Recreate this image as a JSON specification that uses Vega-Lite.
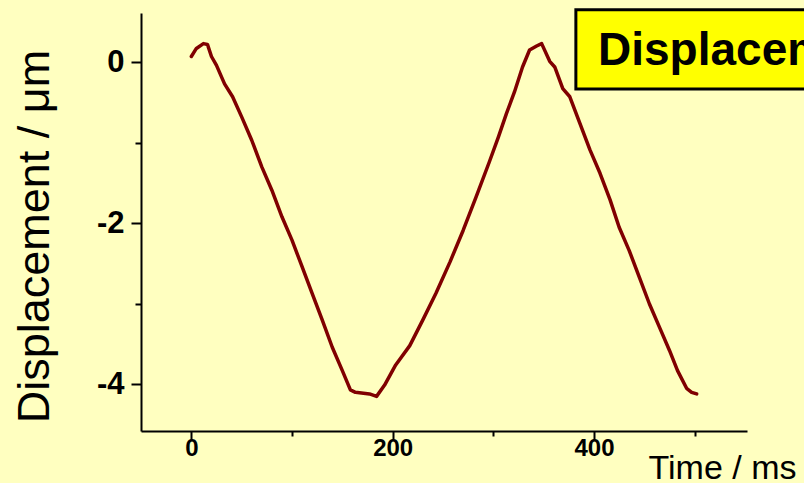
{
  "$schema": "https://vega.github.io/schema/vega-lite/v6.json",
  "width": 606,
  "height": 418,
  "autosize": "none",
  "padding": {"left": 141, "top": 13, "right": 57, "bottom": 52},
  "background": "#FFFFC0",
  "config": {
    "view": {"stroke": null, "fill": "#FFFFC0"},
    "font": "Liberation Sans",
    "axis": {
      "tickWidth": 2, "tickColor": "black", "domainWidth": 2, "domainColor": "black", "grid": false,
      "labelFont": "Liberation Sans", "labelFontWeight": "bold", "labelColor": "black",
      "labelFlush": false, "labelOverlap": false,
      "titleFont": "Liberation Sans", "titleFontWeight": "normal", "titleColor": "black"
    }
  },
  "layer": [
    {
      "data": {"values": [
        {"t": 0, "v": 0.07}, {"t": 5, "v": 0.17}, {"t": 12, "v": 0.23}, {"t": 16, "v": 0.22},
        {"t": 20, "v": 0.07}, {"t": 25, "v": -0.04}, {"t": 33, "v": -0.27}, {"t": 41, "v": -0.43},
        {"t": 50, "v": -0.68}, {"t": 60, "v": -0.97}, {"t": 70, "v": -1.30}, {"t": 80, "v": -1.59},
        {"t": 90, "v": -1.92}, {"t": 100, "v": -2.21}, {"t": 110, "v": -2.54}, {"t": 120, "v": -2.87},
        {"t": 130, "v": -3.20}, {"t": 140, "v": -3.54}, {"t": 150, "v": -3.83}, {"t": 158, "v": -4.07},
        {"t": 163, "v": -4.10}, {"t": 177, "v": -4.12}, {"t": 184, "v": -4.15}, {"t": 192, "v": -4.01},
        {"t": 203, "v": -3.76}, {"t": 217, "v": -3.52}, {"t": 230, "v": -3.20}, {"t": 243, "v": -2.87},
        {"t": 257, "v": -2.48}, {"t": 270, "v": -2.09}, {"t": 283, "v": -1.67}, {"t": 296, "v": -1.24},
        {"t": 305, "v": -0.93}, {"t": 313, "v": -0.64}, {"t": 321, "v": -0.37}, {"t": 329, "v": -0.06},
        {"t": 336, "v": 0.15}, {"t": 343, "v": 0.20}, {"t": 348, "v": 0.23}, {"t": 356, "v": 0.01},
        {"t": 361, "v": -0.06}, {"t": 369, "v": -0.33}, {"t": 376, "v": -0.43}, {"t": 386, "v": -0.76},
        {"t": 396, "v": -1.09}, {"t": 406, "v": -1.38}, {"t": 416, "v": -1.71}, {"t": 425, "v": -2.05},
        {"t": 435, "v": -2.34}, {"t": 445, "v": -2.67}, {"t": 455, "v": -3.00}, {"t": 465, "v": -3.29},
        {"t": 475, "v": -3.58}, {"t": 483, "v": -3.83}, {"t": 492, "v": -4.05}, {"t": 497, "v": -4.10},
        {"t": 502, "v": -4.12}
      ]},
      "mark": {"type": "line", "color": "#800000", "strokeWidth": 3.5, "strokeCap": "round", "strokeJoin": "round"},
      "encoding": {
        "x": {
          "field": "t", "type": "quantitative",
          "scale": {"domain": [-50, 552], "nice": false, "zero": false},
          "axis": {
            "values": [0, 100, 200, 300, 400, 500],
            "labelExpr": "datum.value % 200 === 0 ? '' + datum.value : ''",
            "tickSize": {"condition": {"test": "datum.value % 200 === 0", "value": 9}, "value": 5},
            "labelFontSize": 24, "labelPadding": -4,
            "title": "Time / ms", "titleFontSize": 34,
            "titleX": 581, "titleY": 47, "titleAlign": "center", "titleBaseline": "alphabetic"
          }
        },
        "y": {
          "field": "v", "type": "quantitative",
          "scale": {"domain": [-4.58, 0.61], "nice": false, "zero": false},
          "axis": {
            "values": [-4, -3, -2, -1, 0],
            "labelExpr": "datum.value % 2 === 0 ? '' + datum.value : ''",
            "tickSize": {"condition": {"test": "datum.value % 2 === 0", "value": 10}, "value": 6},
            "labelFontSize": 31, "labelPadding": 7,
            "title": "Displacement / μm", "titleFontSize": 45,
            "titleX": -93, "titleY": 223, "titleAlign": "center", "titleBaseline": "alphabetic"
          }
        }
      }
    },
    {
      "data": {"values": [{"label": "Displacement"}]},
      "mark": {"type": "rect", "fill": "#FFFF00", "stroke": "black", "strokeWidth": 3},
      "encoding": {
        "x": {"datum": 382, "type": "quantitative"},
        "x2": {"datum": 700},
        "y": {"datum": 0.65, "type": "quantitative"},
        "y2": {"datum": -0.335}
      }
    },
    {
      "data": {"values": [{"label": "Displacement"}]},
      "mark": {"type": "text", "align": "left", "baseline": "alphabetic", "fontSize": 46, "fontWeight": "bold", "font": "Liberation Sans", "color": "black"},
      "encoding": {
        "x": {"datum": 404, "type": "quantitative"},
        "y": {"datum": -0.034, "type": "quantitative"},
        "text": {"field": "label"}
      }
    }
  ]
}
